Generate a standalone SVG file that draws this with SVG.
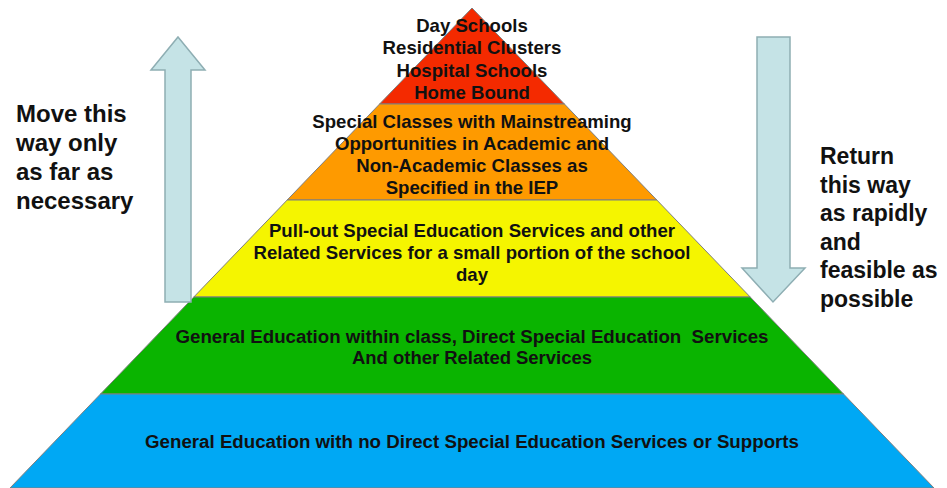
<svg xmlns="http://www.w3.org/2000/svg" width="947" height="488" viewBox="0 0 947 488">
<style>
.band{stroke:#7f7f7f;stroke-width:1}
.t{font-family:"Liberation Sans",Arial,sans-serif;font-weight:bold;font-size:18.6px;fill:#111;text-anchor:middle}
.c{font-size:18px}
.side{font-family:"Liberation Sans",Arial,sans-serif;font-weight:bold;font-size:24px;fill:#111}
.r{font-size:23px}
.arrow{fill:#c5e3e6;stroke:#8eaeb3;stroke-width:1.5}
</style>
<rect width="947" height="488" fill="#ffffff"/>
<g id="level-5">
<polygon class="band" points="472,8 564.4,104 379.6,104" fill="#f42a00"/>
<text class="t" x="472" y="32">Day Schools</text>
<text class="t" x="472" y="54">Residential Clusters</text>
<text class="t" x="472" y="77">Hospital Schools</text>
<text class="t" x="472" y="99">Home Bound</text>
</g>
<g id="level-4">
<polygon class="band" points="379.6,104 564.4,104 656.8,200 287.2,200" fill="#fe9a00"/>
<text class="t" x="472" y="128">Special Classes with Mainstreaming</text>
<text class="t" x="472" y="150">Opportunities in Academic and</text>
<text class="t" x="472" y="172">Non-Academic Classes as</text>
<text class="t" x="472" y="194">Specified in the IEP</text>
</g>
<g id="level-3">
<polygon class="band" points="287.2,200 656.8,200 750.2,297 193.8,297" fill="#f5f500"/>
<text class="t" x="472" y="237">Pull-out Special Education Services and other</text>
<text class="t" x="472" y="259">Related Services for a small portion of the school</text>
<text class="t" x="472" y="281">day</text>
</g>
<g id="level-2">
<polygon class="band" points="193.8,297 750.2,297 843.5,394 100.5,394" fill="#0ab400"/>
<text class="t c" x="472" y="343" textLength="593" lengthAdjust="spacingAndGlyphs" xml:space="preserve">General Education within class, Direct Special Education  Services</text>
<text class="t c" x="472" y="364" textLength="240" lengthAdjust="spacingAndGlyphs">And other Related Services</text>
</g>
<g id="level-1">
<polygon class="band" points="100.5,394 843.5,394 934,488 10,488" fill="#00a8f4"/>
<text class="t c" x="472" y="448" textLength="654" lengthAdjust="spacingAndGlyphs">General Education with no Direct Special Education Services or Supports</text>
</g>
<g id="connectors">
<polygon class="arrow" points="178,37 205,70 191,70 191,302 165,302 165,70 151,70"/>
<polygon class="arrow" points="757,37 790,37 790,268 805,268 773,302 742,268 757,268"/>
</g>
<g id="label-left">
<text class="side" x="16" y="122">Move this</text>
<text class="side" x="16" y="151">way only</text>
<text class="side" x="16" y="180">as far as</text>
<text class="side" x="16" y="209">necessary</text>
</g>
<g id="label-right">
<text class="side r" x="820" y="164">Return</text>
<text class="side r" x="820" y="193">this way</text>
<text class="side r" x="820" y="221">as rapidly</text>
<text class="side r" x="820" y="250">and</text>
<text class="side r" x="820" y="278">feasible as</text>
<text class="side r" x="820" y="307">possible</text>
</g>
</svg>
